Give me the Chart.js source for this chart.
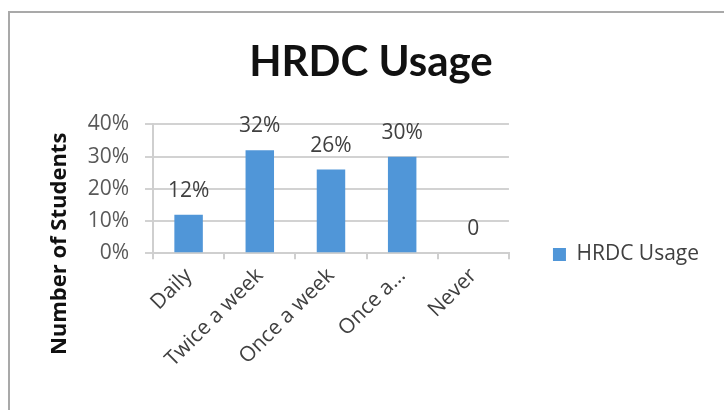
<!DOCTYPE html>
<html>
<head>
<meta charset="utf-8">
<script src="https://cdn.jsdelivr.net/npm/chart.js@4.4.1/dist/chart.umd.min.js"></script>
<style>
  html, body { margin: 0; padding: 0; background: #fff; }
  #frame {
    position: absolute; left: 8px; top: 11px; width: 716px; height: 399px;
    box-sizing: border-box;
    border-top: 2px solid #a9a9a9; border-left: 2px solid #a9a9a9;
  }
  #chart { display: block; }
</style>
</head>
<body>
<div id="frame"><canvas id="chart" width="714" height="397"></canvas></div>
<script>
var categories = ['Daily', 'Twice a week', 'Once a week', 'Once a...', 'Never'];
var usage = [12, 32, 26, 30, 0];
var usageLabels = ['12%', '32%', '26%', '30%', '0'];
var yTicks = [0, 10, 20, 30, 40];
var yTitle = 'Number of Students';

var FONT = "'Open Sans'";

// value labels above each bar
var barLabels = {
  id: 'barLabels',
  afterDatasetsDraw: function(chart) {
    var ctx = chart.ctx;
    var meta = chart.getDatasetMeta(0);
    ctx.save();
    ctx.font = '21px ' + FONT;
    ctx.fillStyle = '#404040';
    ctx.textAlign = 'center';
    ctx.textBaseline = 'alphabetic';
    meta.data.forEach(function(bar, i) {
      ctx.fillText(usageLabels[i], bar.x, bar.y - 18);
    });
    ctx.restore();
  }
};

// axis title sits lower than the plot middle, centred on plot + category labels
var sideTitle = {
  id: 'sideTitle',
  afterDraw: function(chart) {
    var ctx = chart.ctx;
    var a = chart.chartArea;
    ctx.save();
    ctx.translate(a.left - 93, (a.top + a.bottom) / 2 + 55);
    ctx.rotate(-Math.PI / 2);
    ctx.font = 'bold 22px ' + FONT;
    ctx.fillStyle = '#111';
    ctx.textAlign = 'center';
    ctx.textBaseline = 'middle';
    ctx.fillText(yTitle, 0, 0);
    ctx.restore();
  }
};

var ctx = document.getElementById('chart').getContext('2d');
new Chart(ctx, {
  type: 'bar',
  data: {
    labels: categories,
    datasets: [{
      label: 'HRDC Usage',
      data: usage,
      backgroundColor: '#5096d8',
      categoryPercentage: 1,
      barPercentage: 0.4
    }]
  },
  options: {
    responsive: false,
    animation: false,
    layout: { padding: { left: 23, right: 15, top: 0, bottom: 34 } },
    plugins: {
      title: {
        display: true,
        text: 'HRDC Usage',
        color: '#111',
        font: { family: 'Lato', size: 42, weight: 'bold' },
        padding: { top: 24, bottom: 37 }
      },
      legend: {
        position: 'right',
        maxWidth: 214,
        // empty title only pushes the key down to the middle of the plot block
        title: { display: true, text: ' ', font: { size: 10 }, padding: { top: 108, bottom: 0 } },
        labels: {
          color: '#404040',
          font: { family: FONT, size: 21 },
          boxWidth: 13,
          boxHeight: 13,
          padding: 44
        }
      },
      tooltip: { enabled: false }
    },
    scales: {
      x: {
        grid: { display: true, drawOnChartArea: false, drawTicks: true, tickLength: 6, color: '#cfcfcf', lineWidth: 2 },
        border: { display: true, color: '#cfcfcf', width: 2 },
        ticks: {
          color: '#404040',
          font: { family: FONT, size: 21 },
          minRotation: 45, maxRotation: 45, autoSkip: false, padding: 4
        }
      },
      y: {
        min: 0, max: 40,
        afterBuildTicks: function(scale) {
          scale.ticks = yTicks.map(function(v) { return { value: v }; });
        },
        afterFit: function(scale) { scale.width = 120; },
        grid: { color: '#d2d2d2', lineWidth: 2, tickLength: 8 },
        border: { display: true, color: '#cfcfcf', width: 2 },
        ticks: {
          color: '#595959',
          font: { family: FONT, size: 21 },
          padding: 16,
          callback: function(v) { return v + '%'; }
        }
      }
    }
  },
  plugins: [barLabels, sideTitle]
});
</script>
</body>
</html>
